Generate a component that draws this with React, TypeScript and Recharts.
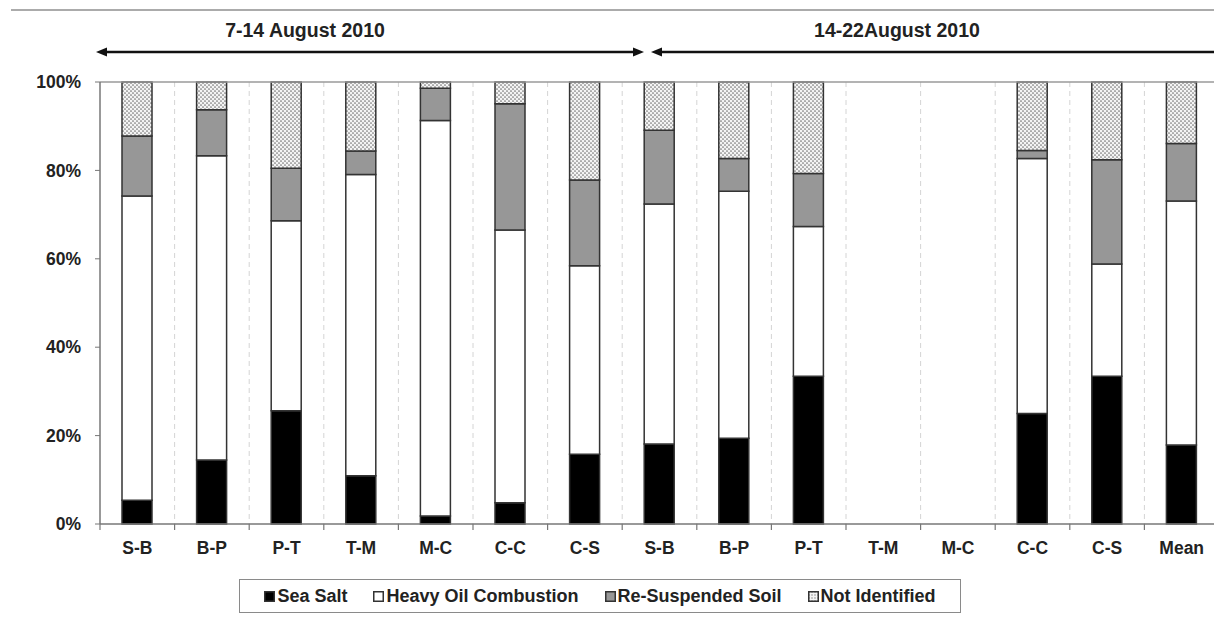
import React from "react";
import {
  BarChart,
  Bar,
  XAxis,
  YAxis,
  CartesianGrid,
  Legend,
  ReferenceLine
} from "recharts";

const sites = ["S-B", "B-P", "P-T", "T-M", "M-C", "C-C", "C-S", "S-B", "B-P", "P-T", "T-M", "M-C", "C-C", "C-S", "Mean"];
const seaSalt = [5.4, 14.5, 25.6, 10.9, 1.8, 4.8, 15.8, 18.1, 19.4, 33.4, null, null, 25.0, 33.4, 17.9];
const heavyOil = [68.8, 68.8, 43.0, 68.2, 89.5, 61.7, 42.6, 54.3, 55.9, 33.9, null, null, 57.7, 25.4, 55.2];
const soil = [13.6, 10.4, 11.9, 5.3, 7.3, 28.6, 19.4, 16.7, 7.4, 12.0, null, null, 1.8, 23.6, 13.0];
const notIdentified = [12.2, 6.3, 19.5, 15.6, 1.4, 4.9, 22.2, 10.9, 17.3, 20.7, null, null, 15.5, 17.6, 13.9];
const yTicks = [0, 20, 40, 60, 80, 100];
const periods = ["7-14 August 2010", "14-22August 2010"];

const series = [
  { key: "seaSalt", name: "Sea Salt", fill: "#000" },
  { key: "heavyOil", name: "Heavy Oil Combustion", fill: "#fff" },
  { key: "soil", name: "Re-Suspended Soil", fill: "#979797" },
  { key: "notIdentified", name: "Not Identified", fill: "url(#dots)" }
];

const data = sites.map((site, i) => ({
  site,
  seaSalt: seaSalt[i],
  heavyOil: heavyOil[i],
  soil: soil[i],
  notIdentified: notIdentified[i]
}));

const FONT = "'Liberation Sans', Arial, sans-serif";
const CHART_W = 1225;
const CHART_H = 617;
const MARGIN = { top: 82, right: 6, bottom: 23, left: 30 };
const Y_W = 70;
const PLOT_W = CHART_W - MARGIN.left - MARGIN.right - Y_W;
const BAND = PLOT_W / sites.length;

function SiteTick(props: any) {
  const { x, y, payload, index } = props;
  return (
    <g>
      <line x1={x - BAND / 2} x2={x - BAND / 2} y1={y} y2={y + 6} stroke="#777" strokeWidth={1.2} />
      {index === sites.length - 1 && (
        <line x1={x + BAND / 2} x2={x + BAND / 2} y1={y} y2={y + 6} stroke="#777" strokeWidth={1.2} />
      )}
      <text x={x} y={y + 30} textAnchor="middle" fontFamily={FONT} fontWeight="bold" fontSize={17.5} fill="#222">
        {payload.value}
      </text>
    </g>
  );
}

function Marker({ fill }: { fill: string }) {
  return (
    <svg width={11} height={11} style={{ marginRight: 2, flex: "none" }}>
      <defs>
        <pattern id="dotsLegend" width={3} height={3} patternUnits="userSpaceOnUse">
          <rect width={3} height={3} fill="#f4f4f4" />
          <circle cx={1} cy={1} r={0.7} fill="#777" />
        </pattern>
      </defs>
      <rect x={0.75} y={0.75} width={9.5} height={9.5} fill={fill === "url(#dots)" ? "url(#dotsLegend)" : fill} stroke="#333" strokeWidth={1.5} />
    </svg>
  );
}

function LegendBox() {
  return (
    <div
      style={{
        boxSizing: "border-box",
        height: 34,
        width: 722,
        border: "1.5px solid #8a8a8a",
        display: "flex",
        alignItems: "center",
        justifyContent: "center",
        gap: 26,
        fontFamily: FONT,
        fontWeight: "bold",
        fontSize: 18,
        color: "#222",
        background: "#fff"
      }}
    >
      {series.map((s) => (
        <div key={s.key} style={{ display: "flex", alignItems: "center" }}>
          <Marker fill={s.fill} />
          <span>{s.name}</span>
        </div>
      ))}
    </div>
  );
}

export default function App() {
  const plotLeft = MARGIN.left + Y_W;
  const boundaries = sites.slice(1).map((_, i) => plotLeft + (i + 1) * BAND);

  return (
    <div
      style={{
        position: "absolute",
        left: 0,
        top: 0,
        width: 1214,
        height: 617,
        overflow: "hidden",
        background: "#fff"
      }}
    >
      <BarChart width={CHART_W} height={CHART_H} data={data} margin={MARGIN}>
        <defs>
          <pattern id="dots" width={4} height={4} patternUnits="userSpaceOnUse">
            <rect width={4} height={4} fill="#f4f4f4" />
            <circle cx={1} cy={1} r={0.85} fill="#747474" />
            <circle cx={3} cy={3} r={0.85} fill="#747474" />
          </pattern>
        </defs>
        <CartesianGrid
          horizontal={false}
          vertical
          stroke="#d4d4d4"
          strokeDasharray="5 4"
          verticalCoordinatesGenerator={() => boundaries}
        />
        <ReferenceLine y={100} stroke="#9a9a9a" strokeWidth={1.5} />
        <XAxis
          dataKey="site"
          interval={0}
          tickLine={false}
          tickSize={0}
          tickMargin={0}
          height={36}
          axisLine={{ stroke: "#777", strokeWidth: 1.5 }}
          tick={<SiteTick />}
        />
        <YAxis
          width={Y_W}
          domain={[0, 100]}
          ticks={yTicks}
          tickFormatter={(v) => `${v}%`}
          tickSize={5}
          tickMargin={14}
          axisLine={{ stroke: "#777", strokeWidth: 1.5 }}
          tickLine={{ stroke: "#777" }}
          tick={{ fontFamily: FONT, fontWeight: "bold", fontSize: 17.5, fill: "#222" }}
        />
        <Legend
          verticalAlign="bottom"
          content={() => <LegendBox />}
          wrapperStyle={{ left: 239, bottom: 4, width: 722 }}
        />
        {series.map((s) => (
          <Bar
            key={s.key}
            dataKey={s.key}
            name={s.name}
            stackId="a"
            fill={s.fill}
            stroke="#333"
            strokeWidth={1.5}
            barSize={30}
            isAnimationActive={false}
          />
        ))}
      </BarChart>

      <svg
        width={1214}
        height={80}
        style={{ position: "absolute", left: 0, top: 0, pointerEvents: "none" }}
      >
        <line x1={11} x2={1214} y1={10} y2={10} stroke="#8f8f8f" strokeWidth={1.5} />
        <text x={305} y={37} textAnchor="middle" fontFamily={FONT} fontWeight="bold" fontSize={19.5} fill="#222">
          {periods[0]}
        </text>
        <text x={897} y={37} textAnchor="middle" fontFamily={FONT} fontWeight="bold" fontSize={19.5} fill="#222">
          {periods[1]}
        </text>
        <line x1={104} x2={636} y1={52} y2={52} stroke="#111" strokeWidth={2.5} />
        <polygon points="96,52 107,47.5 107,56.5" fill="#111" />
        <polygon points="644,52 633,47.5 633,56.5" fill="#111" />
        <line x1={660} x2={1214} y1={52} y2={52} stroke="#111" strokeWidth={2.5} />
        <polygon points="651,52 662,47.5 662,56.5" fill="#111" />
      </svg>
    </div>
  );
}
